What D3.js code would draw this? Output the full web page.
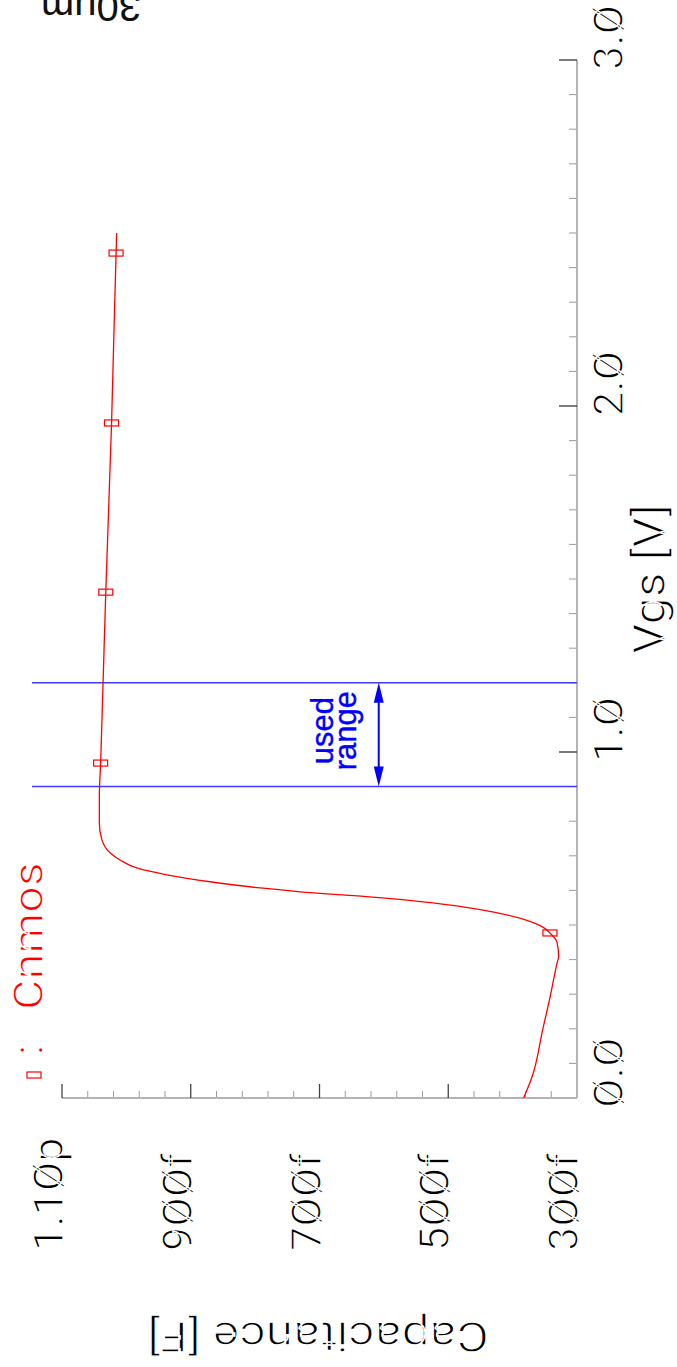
<!DOCTYPE html>
<html>
<head>
<meta charset="utf-8">
<script src="https://cdn.jsdelivr.net/npm/d3@7"></script>
<style>
  html, body { margin: 0; padding: 0; background: #fff; }
  svg { display: block; }
  /* plotter-style lettering: a regular face thinned with a white outline pass */
  .thin { font-family: "Roboto", "DejaVu Sans", sans-serif; font-weight: 400;
          stroke: #fff; stroke-width: 1.4; paint-order: normal; }
</style>
</head>
<body>
<svg id="chart" width="677" height="1367"></svg>
<script>
// Gate voltage sweep (V) and the simulated capacitance (fF)
const vgs = [0, 0.06, 0.2, 0.29, 0.39, 0.41, 0.45, 0.477, 0.494, 0.51, 0.543, 0.564, 0.582, 0.596,
             0.607, 0.625, 0.645, 0.665, 0.688, 0.708, 0.746, 0.795, 0.87, 0.968, 1.15, 1.462,
             1.951, 2.442, 2.5];
const cap = [383, 370, 353, 342, 331, 328.5, 331, 342, 353, 372, 446, 524, 627, 730,
             792, 870, 937, 984, 1010, 1025, 1038, 1042, 1042, 1040, 1037, 1032,
             1023, 1016, 1015];

// Sampled points shown with the series marker
const markerVgs = [0.477, 0.968, 1.462, 1.951, 2.442];
const markerCap = [342, 1040, 1032, 1023, 1016];

// Operating window
const usedRange = [0.9, 1.2];

// Axis ticks and labels
const vgsTickValues = [0, 1, 2, 3];
const vgsTickLabels = ["Ø.Ø", "1.Ø", "2.Ø", "3.Ø"];
const capTickValues = [1100, 900, 700, 500, 300];
const capTickLabels = ["1.1Øp", "9ØØf", "7ØØf", "5ØØf", "3ØØf"];

const seriesName = "Cnmos";
const xTitle = "Vgs [V]";
const yTitle = "Capacitance [F]";
const cornerNote = "30um";

const svg = d3.select("#chart");

// The plot is laid out sideways: capacitance runs across, Vgs runs up the page.
const x = d3.scaleLinear().domain([1100, 300]).range([62, 577]);
const y = d3.scaleLinear().domain([0, 3]).range([1098, 60]);

const X0 = x.range()[0], X1 = x.range()[1];
const Y0 = y.range()[0], Y1 = y.range()[1];

// ---- axes ----
const axes = svg.append("g");

// minor ticks
const vgsMinor = d3.range(0, 31).map(i => i / 10).filter(v => !vgsTickValues.includes(v));
axes.selectAll(".vminor").data(vgsMinor).join("line")
  .attr("x1", X1 - 8).attr("x2", X1)
  .attr("y1", d => y(d)).attr("y2", d => y(d))
  .attr("stroke", "#9a9a9a").attr("stroke-width", 1);

const capMinor = d3.range(300, 1101, 40).filter(v => !capTickValues.includes(v));
axes.selectAll(".cminor").data(capMinor).join("line")
  .attr("x1", d => x(d)).attr("x2", d => x(d))
  .attr("y1", Y0 - 7).attr("y2", Y0)
  .attr("stroke", "#9a9a9a").attr("stroke-width", 1);

// axis lines
axes.append("line").attr("x1", X1).attr("x2", X1).attr("y1", Y1).attr("y2", Y0)
  .attr("stroke", "#b4b4b4").attr("stroke-width", 2);
axes.append("line").attr("x1", X0).attr("x2", X1).attr("y1", Y0).attr("y2", Y0)
  .attr("stroke", "#b4b4b4").attr("stroke-width", 2);

// major ticks
axes.selectAll(".vmajor").data(vgsTickValues.filter(v => v !== 0)).join("line")
  .attr("x1", X1 - 18).attr("x2", X1)
  .attr("y1", d => y(d)).attr("y2", d => y(d))
  .attr("stroke", "#333").attr("stroke-width", 1.3);
axes.selectAll(".cmajor").data(capTickValues.filter(v => v !== 300)).join("line")
  .attr("x1", d => x(d)).attr("x2", d => x(d))
  .attr("y1", Y0 - 14).attr("y2", Y0)
  .attr("stroke", "#444").attr("stroke-width", 1.3);

// tick labels (rotated, reading upward)
axes.selectAll(".vlabel").data(vgsTickValues).join("text")
  .attr("class", "thin")
  .attr("transform", d => `translate(${X1 + 46},${y(d) + 10}) rotate(-90)`)
  .attr("font-size", 43).attr("fill", "#000")
  .attr("text-anchor", "start")
  .text((d, i) => vgsTickLabels[i]);

axes.selectAll(".clabel").data(capTickValues).join("text")
  .attr("class", "thin")
  .attr("transform", d => `translate(${x(d) + 1},1251) rotate(-90)`)
  .attr("font-size", 43).attr("fill", "#000")
  .attr("text-anchor", "start")
  .text((d, i) => capTickLabels[i]);

// axis titles
svg.append("text").attr("class", "thin")
  .attr("transform", `translate(665,${y(1.5)}) rotate(-90)`)
  .attr("font-size", 44).attr("fill", "#000")
  .attr("textLength", 150).attr("lengthAdjust", "spacingAndGlyphs")
  .attr("text-anchor", "middle").text(xTitle);

svg.append("text").attr("class", "thin")
  .attr("transform", `translate(318,1322) rotate(180)`)
  .attr("font-size", 43).attr("fill", "#000")
  .attr("textLength", 342).attr("lengthAdjust", "spacingAndGlyphs")
  .attr("text-anchor", "middle").text(yTitle);

svg.append("text")
  .attr("transform", `translate(91,-7) rotate(180)`)
  .attr("font-family", "Liberation Sans, Arial, sans-serif")
  .attr("font-size", 40).attr("fill", "#111")
  .attr("text-anchor", "middle").text(cornerNote);

// ---- used range annotation ----
const blue = "#0000ff";
svg.selectAll(".range").data(usedRange).join("line")
  .attr("x1", 32).attr("x2", X1)
  .attr("y1", d => y(d)).attr("y2", d => y(d))
  .attr("stroke", "#3c3cff").attr("stroke-width", 1.5);

const ax = x(608);
const yTop = y(usedRange[1]), yBot = y(usedRange[0]);
svg.append("line").attr("x1", ax).attr("x2", ax)
  .attr("y1", yTop + 18).attr("y2", yBot - 18)
  .attr("stroke", blue).attr("stroke-width", 2);
svg.append("path")
  .attr("d", `M${ax},${yTop} L${ax - 5},${yTop + 20} L${ax + 5},${yTop + 20} Z`)
  .attr("fill", blue);
svg.append("path")
  .attr("d", `M${ax},${yBot} L${ax - 5},${yBot - 20} L${ax + 5},${yBot - 20} Z`)
  .attr("fill", blue);

const midY = (yTop + yBot) / 2 - 4;
[["used", ax - 46], ["range", ax - 23]].forEach(([t, bx]) => {
  svg.append("text")
    .attr("transform", `translate(${bx},${midY}) rotate(-90)`)
    .attr("font-family", "Liberation Sans, Arial, sans-serif")
    .attr("font-size", 31).attr("fill", blue)
    .attr("stroke", blue).attr("stroke-width", 0.4)
    .attr("text-anchor", "middle").text(t);
});

// ---- Cnmos curve ----
const pts = vgs.map((v, i) => [cap[i], v]);
const line = d3.line()
  .x(d => x(d[0])).y(d => y(d[1]))
  .curve(d3.curveMonotoneY);
svg.append("path").datum(pts)
  .attr("d", line)
  .attr("fill", "none").attr("stroke", "#ff0000").attr("stroke-width", 1.3);

svg.selectAll(".mk").data(markerVgs).join("rect")
  .attr("x", (d, i) => x(markerCap[i]) - 7).attr("y", d => y(d) - 3)
  .attr("width", 14).attr("height", 6)
  .attr("fill", "none").attr("stroke", "#ff0000").attr("stroke-width", 1.2);

// ---- legend ----
svg.append("rect").attr("x", 27).attr("y", 1072).attr("width", 14).attr("height", 6)
  .attr("fill", "none").attr("stroke", "#ff0000").attr("stroke-width", 1.2);
svg.append("text").attr("class", "thin")
  .attr("transform", `translate(43,1050) rotate(-90)`)
  .attr("font-size", 43).attr("fill", "#ff0000")
  .attr("text-anchor", "middle").text(":");
svg.append("text").attr("class", "thin")
  .attr("transform", `translate(43,1010) rotate(-90)`)
  .attr("font-size", 43).attr("fill", "#ff0000")
  .attr("textLength", 148).attr("lengthAdjust", "spacingAndGlyphs")
  .attr("text-anchor", "start").text(seriesName);
</script>
</body>
</html>
